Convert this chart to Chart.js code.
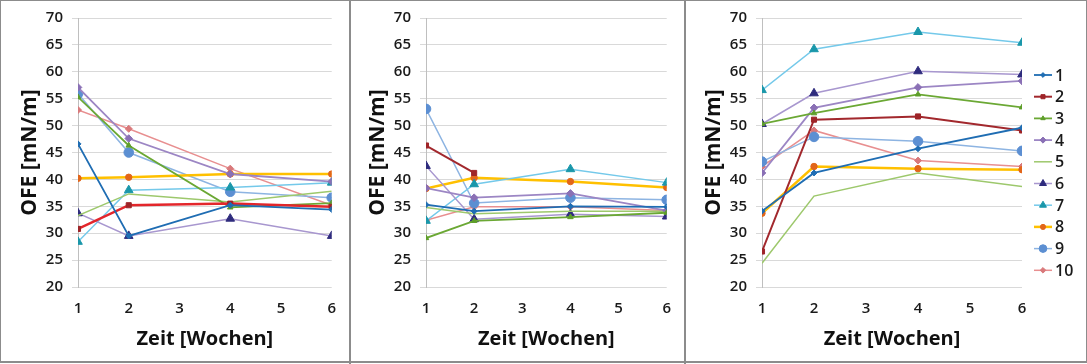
<!DOCTYPE html>
<html><head><meta charset="utf-8">
<script src="https://cdn.jsdelivr.net/npm/chart.js@4.4.1/dist/chart.umd.min.js"></script>
<style>
html,body{margin:0;padding:0;background:#fff;}
#wrap{position:relative;width:1087px;height:364px;overflow:hidden;background:#fff;}
.pan{position:absolute;top:0;height:364px;}
.pan canvas{display:block;}
.frame{position:absolute;left:0;top:0;width:1087px;height:363px;box-sizing:border-box;border:1px solid #8c8c8c;border-bottom:2px solid #8c8c8c;pointer-events:none;}
.sep{position:absolute;top:0;width:2px;height:364px;background:#8c8c8c;}
</style></head><body>
<div id="wrap">
  <div class="pan" style="left:0;width:349px"><canvas id="c1" width="349" height="364"></canvas></div>
  <div class="pan" style="left:351px;width:333px"><canvas id="c2" width="333" height="364"></canvas></div>
  <div class="pan" style="left:686px;width:401px"><canvas id="c3" width="401" height="364"></canvas></div>
  <div class="sep" style="left:349px"></div>
  <div class="sep" style="left:684px"></div>
  <div class="frame"></div>
</div>
<script>
// ---- data ----
const weeks = [1, 2, 4, 6];
const seriesNames = ['1','2','3','4','5','6','7','8','9','10'];
const yTickMin = 20, yTickMax = 70, yTickStep = 5;
const xTickMin = 1, xTickMax = 6;
const yTitle = 'OFE [mN/m]';
const xTitle = 'Zeit [Wochen]';

// left panel: one row per series 1..10, values at weeks 1,2,4,6
const panel1Values = [
  [46.6, 29.5, 35.2, 34.4],
  [30.8, 35.2, 35.5, 34.9],
  [55.3, 46.3, 34.8, 35.6],
  [57.1, 47.6, 41.0, 39.6],
  [33.3, 37.3, 35.8, 37.8],
  [33.7, 29.5, 32.7, 29.5],
  [28.4, 38.0, 38.5, 39.4],
  [40.2, 40.4, 41.0, 41.0],
  [55.9, 45.0, 37.7, 36.6],
  [52.9, 49.4, 42.0, 35.2]
];
// middle panel
const panel2Values = [
  [35.3, 34.1, 35.0, 34.9],
  [46.3, 41.2, null, null],
  [29.1, 32.3, 33.0, 33.8],
  [38.4, 36.6, 37.4, 34.2],
  [34.8, 33.6, 34.1, 34.1],
  [42.5, 32.6, 33.5, 33.1],
  [32.3, 39.1, 41.9, 39.4],
  [38.3, 40.3, 39.6, 38.5],
  [53.1, 35.6, 36.6, 36.2],
  [32.4, 34.9, 34.9, 34.2]
];
// right panel
const panel3Values = [
  [34.1, 41.2, 45.7, 49.6],
  [26.6, 51.1, 51.7, 49.1],
  [50.3, 52.3, 55.8, 53.4],
  [41.2, 53.3, 57.1, 58.3],
  [24.4, 36.9, 41.2, 38.7],
  [50.3, 56.0, 60.1, 59.5],
  [56.6, 64.2, 67.4, 65.4],
  [33.7, 42.4, 42.0, 41.8],
  [43.3, 47.9, 47.1, 45.3],
  [42.4, 49.1, 43.5, 42.4]
];

// ---- styles ----
const styles = [
  {line:'#1F6DB3', point:'#1F6DB3', shape:'rectRot', r:3,   w:1.8},
  {line:'#A2282D', point:'#9E2428', shape:'rect',    r:3.6, w:2},
  {line:'#6BA834', point:'#5E9E2A', shape:'triangle',r:3.2, w:1.8},
  {line:'#9C86C4', point:'#8A70B5', shape:'rectRot', r:3.8, w:1.8},
  {line:'#9DC86C', point:'#9DC86C', shape:'line',    r:0,   w:1.5},
  {line:'#A897CF', point:'#2E2B7D', shape:'triangle',r:5,   w:1.5},
  {line:'#74C9EA', point:'#1A97AA', shape:'triangle',r:5,   w:1.5},
  {line:'#FFC000', point:'#E2661A', shape:'circle',  r:3.2, w:2.5},
  {line:'#8DB4E2', point:'#5C8FD2', shape:'circle',  r:4.8, w:1.5},
  {line:'#E88F90', point:'#D9797B', shape:'rectRot', r:3.5, w:1.5}
];
const FONT = "'Open Sans', 'Liberation Sans', sans-serif";

const legendPlugin = {
  id: 'lineLegend',
  afterDraw(chart, args, opts) {
    if (!opts || !opts.show) return;
    const ctx = chart.ctx;
    chart.data.datasets.forEach((ds, i) => {
      const y = opts.top + i * opts.step;
      const x0 = opts.left, x1 = opts.left + opts.len;
      ctx.save();
      ctx.strokeStyle = ds.borderColor;
      ctx.lineWidth = ds.borderWidth;
      ctx.beginPath(); ctx.moveTo(x0, y); ctx.lineTo(x1, y); ctx.stroke();
      if (ds.pointRadius > 0) {
        ctx.fillStyle = ds.pointBackgroundColor;
        ctx.strokeStyle = ds.pointBorderColor;
        ctx.lineWidth = 1;
        Chart.helpers.drawPoint(ctx, {pointStyle: ds.pointStyle, radius: ds.pointRadius * 0.8, borderWidth: 1, rotation: 0}, (x0 + x1) / 2, y);
      }
      ctx.fillStyle = '#1a1a1a';
      ctx.font = "600 16px " + FONT;
      ctx.textBaseline = 'middle';
      ctx.textAlign = 'left';
      ctx.fillText(ds.label, x1 + 3, y + 1);
      ctx.restore();
    });
  }
};

function makeChart(id, values, cfg) {
  const datasets = values.map((row, i) => {
    const s = styles[i];
    const lineColor = (cfg.lineOverride && cfg.lineOverride[i]) || s.line;
    return {
      label: seriesNames[i],
      data: weeks.map((w, j) => ({x: w, y: row[j]})),
      borderColor: lineColor,
      backgroundColor: s.point,
      borderWidth: (cfg.widthOverride && cfg.widthOverride[i]) || s.w,
      pointStyle: s.shape,
      pointRadius: s.r,
      pointBackgroundColor: s.point,
      pointBorderColor: s.point,
      pointBorderWidth: 1,
      tension: 0,
      spanGaps: false
    };
  });
  return new Chart(document.getElementById(id), {
    type: 'line',
    data: {datasets},
    plugins: [legendPlugin],
    options: {
      responsive: false,
      animation: false,
      events: [],
      layout: {padding: {top: 16, right: cfg.right, bottom: 0, left: 0}},
      plugins: {
        legend: {display: false},
        tooltip: {enabled: false},
        lineLegend: cfg.legend || {show: false}
      },
      scales: {
        x: {
          type: 'linear', min: xTickMin, max: xTickMax,
          afterFit(s) { s.height = 77; },
          ticks: {stepSize: 1, padding: 13, color: '#1a1a1a', font: {family: FONT, size: 15, weight: '600'}},
          grid: {display: false, drawTicks: false},
          border: {display: false},
          title: {display: true, text: xTitle, color: '#111', font: {family: FONT, size: 20, weight: 'bold'}, padding: {top: 0, bottom: 13}}
        },
        y: {
          min: yTickMin, max: yTickMax,
          afterFit(s) { s.width = cfg.yWidth; },
          ticks: {stepSize: yTickStep, padding: 9, color: '#1a1a1a', font: {family: FONT, size: 15, weight: '600'}},
          grid: {color: '#D9D9D9', lineWidth: 1, tickLength: 6},
          border: {display: true, color: '#BFBFBF'},
          title: {display: true, text: yTitle, color: '#111', font: {family: FONT, size: 21, weight: 'bold'}, padding: {top: cfg.yTitlePad, bottom: 0}}
        }
      }
    }
  });
}

makeChart('c1', panel1Values, {right: 14, yWidth: 78, yTitlePad: 17, lineOverride: {1: '#E3262B'}, widthOverride: {1: 2.5}});
makeChart('c2', panel2Values, {right: 12, yWidth: 75, yTitlePad: 14});
makeChart('c3', panel3Values, {right: 65, yWidth: 76, yTitlePad: 15,
  legend: {show: true, left: 348, len: 18, top: 75, step: 21.7}});
</script>
</body></html>
